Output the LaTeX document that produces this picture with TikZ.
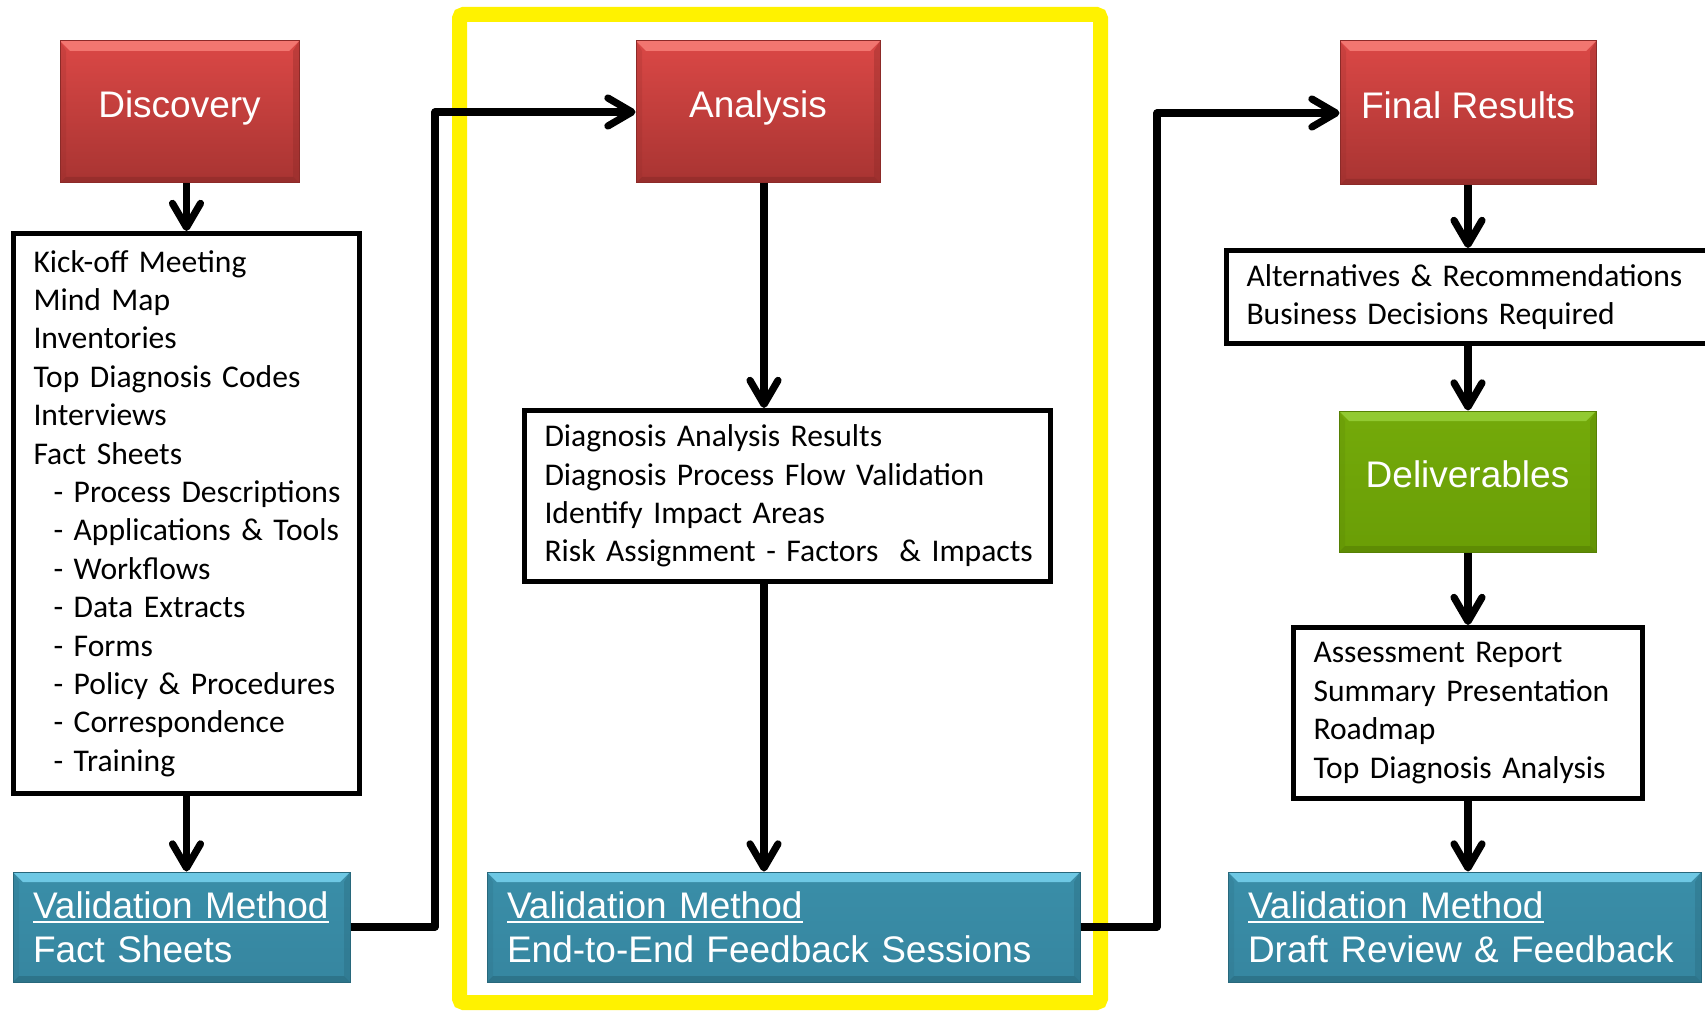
\documentclass[tikz,border=0pt]{standalone}
\usepackage{fontspec}
\setmainfont{Liberation Sans}
\newfontfamily\calfont{Carlito}[WordSpace=0.8]
\usetikzlibrary{arrows.meta}
\definecolor{redtop}{RGB}{219,72,70}
\definecolor{redbot}{RGB}{168,52,50}
\definecolor{redlite}{RGB}{242,118,112}
\definecolor{reddark}{RGB}{140,42,40}
\definecolor{grntop}{RGB}{116,170,10}
\definecolor{grnbot}{RGB}{106,158,6}
\definecolor{grnlite}{RGB}{146,202,50}
\definecolor{grndark}{RGB}{86,128,4}
\definecolor{tealtop}{RGB}{58,142,168}
\definecolor{tealbot}{RGB}{54,134,160}
\definecolor{teallite}{RGB}{110,200,228}
\definecolor{tealdark}{RGB}{40,104,124}
\newcommand{\myul}[1]{\setbox0\hbox{#1}\rlap{\rule[-2.2pt]{\wd0}{1pt}}\box0}
\newcommand{\lineitem}[1]{\mbox{#1}}
\tikzset{
  bevel/.style n args={4}{top color=#1, bottom color=#2, draw=#4, line width=0.5pt,
    path picture={
      \fill[#3] (path picture bounding box.north west) -- (path picture bounding box.north east)
        -- ([shift={(-5pt,-5pt)}]path picture bounding box.north east)
        -- ([shift={(5pt,-5pt)}]path picture bounding box.north west) -- cycle;
      \fill[#4,opacity=0.6] (path picture bounding box.south west) -- (path picture bounding box.south east)
        -- ([shift={(-3pt,3pt)}]path picture bounding box.south east)
        -- ([shift={(3pt,3pt)}]path picture bounding box.south west) -- cycle;
      \fill[#4,opacity=0.35] (path picture bounding box.north east) -- (path picture bounding box.south east)
        -- ([shift={(-3pt,3pt)}]path picture bounding box.south east)
        -- ([shift={(-3pt,-5pt)}]path picture bounding box.north east) -- cycle;
      \fill[#4,opacity=0.2] (path picture bounding box.north west) -- (path picture bounding box.south west)
        -- ([shift={(3pt,3pt)}]path picture bounding box.south west)
        -- ([shift={(3pt,-5pt)}]path picture bounding box.north west) -- cycle;
    }},
  headbox/.style={rectangle, inner sep=0pt, text=white, text height=0.73em, text depth=0.17em,
    font=\fontsize{18.5}{22}\selectfont},
  redhead/.style={headbox, bevel={redtop}{redbot}{redlite}{reddark}},
  grnhead/.style={headbox, bevel={grntop}{grnbot}{grnlite}{grndark}},
  valbox/.style={rectangle, inner xsep=10pt, inner ysep=0pt, text=white, align=left,
    minimum height=55pt, font=\fontsize{18.5}{22}\selectfont,
    bevel={tealtop}{tealbot}{teallite}{tealdark}},
  listbox/.style={rectangle, draw=black, line width=2.5pt, fill=white, align=left,
    inner xsep=10pt, inner ysep=0pt, font=\calfont\fontsize{15.8}{19.2}\selectfont},
  conn/.style={line width=3.6pt, line join=round, -{Straight Barb[length=12pt,width=14pt,round]}}
}
\begin{document}
\begin{tikzpicture}[x=0.5pt,y=-0.5pt]
\useasboundingbox (0,0) rectangle (1705,1011);
% highlight frame
\draw[yellow, line width=7.5pt, rounded corners=2pt] (459.5,14.5) rectangle (1100.5,1002.5);

% column 1
\node[redhead, minimum width=119.5pt, minimum height=71pt] (disc) at (179.5,112) {Discovery};
\node[listbox, text width=153pt, minimum height=280pt] (list) at (186.5,513.5) {%
\lineitem{Kick-off Meeting}\\
\lineitem{Mind Map}\\
\lineitem{Inventories}\\
\lineitem{Top Diagnosis Codes}\\
\lineitem{Interviews}\\
\lineitem{Fact Sheets}\\
\lineitem{\hspace*{10pt}- Process Descriptions}\\
\lineitem{\hspace*{10pt}- Applications \& Tools}\\
\lineitem{\hspace*{10pt}- Workflows}\\
\lineitem{\hspace*{10pt}- Data Extracts}\\
\lineitem{\hspace*{10pt}- Forms}\\
\lineitem{\hspace*{10pt}- Policy \& Procedures}\\
\lineitem{\hspace*{10pt}- Correspondence}\\
\lineitem{\hspace*{10pt}- Training}};
\node[valbox, text width=148.5pt] (vfs) at (181.5,927) {\myul{Validation Method}\\Fact Sheets};

% column 2
\node[redhead, minimum width=122pt, minimum height=71pt] (ana) at (758,112) {Analysis};
\node[listbox, text width=243pt, minimum height=85.5pt] (diag) at (787.5,496) {%
\lineitem{Diagnosis Analysis Results}\\
\lineitem{Diagnosis Process Flow Validation}\\
\lineitem{Identify Impact Areas}\\
\lineitem{Risk Assignment - Factors\ \ \& Impacts}};
\node[valbox, text width=276.5pt] (ve2e) at (783.5,927) {\myul{Validation Method}\\End-to-End Feedback Sessions};

% column 3
\node[redhead, minimum width=128pt, minimum height=72pt] (fin) at (1468,113) {Final Results};
\node[listbox, text width=225.5pt, minimum height=46.5pt] (alt) at (1472,297) {%
\lineitem{Alternatives \& Recommendations}\\
\lineitem{Business Decisions Required}};
\node[grnhead, minimum width=128.5pt, minimum height=70.5pt] (del) at (1467.5,481.5) {Deliverables};
\node[listbox, text width=154.5pt, minimum height=85.5pt] (assess) at (1468,713) {%
\lineitem{Assessment Report}\\
\lineitem{Summary Presentation}\\
\lineitem{Roadmap}\\
\lineitem{Top Diagnosis Analysis}};
\node[valbox, text width=216.5pt] (vdr) at (1464.5,927) {\myul{Validation Method}\\Draft Review \& Feedback};

% connectors
\draw[conn] (disc.south -| list.north) -- (list.north);
\draw[conn] (list.south) -- (list.south |- vfs.north);
\coordinate (k1) at (435,500);
\draw[conn] (vfs.east) -| (k1) |- (ana.west);
\draw[conn] ([xshift=3pt]ana.south) -- ([xshift=3pt]ana.south |- diag.north);
\draw[conn] ([xshift=3pt]ana.south |- diag.south) -- ([xshift=3pt]ana.south |- ve2e.north);
\coordinate (k2) at (1157,500);
\draw[conn] (ve2e.east) -| (k2) |- (fin.west);
\draw[conn] (fin.south) -- (fin.south |- alt.north);
\draw[conn] (fin.south |- alt.south) -- (fin.south |- del.north);
\draw[conn] (fin.south |- del.south) -- (fin.south |- assess.north);
\draw[conn] (fin.south |- assess.south) -- (fin.south |- vdr.north);
\end{tikzpicture}
\end{document}
